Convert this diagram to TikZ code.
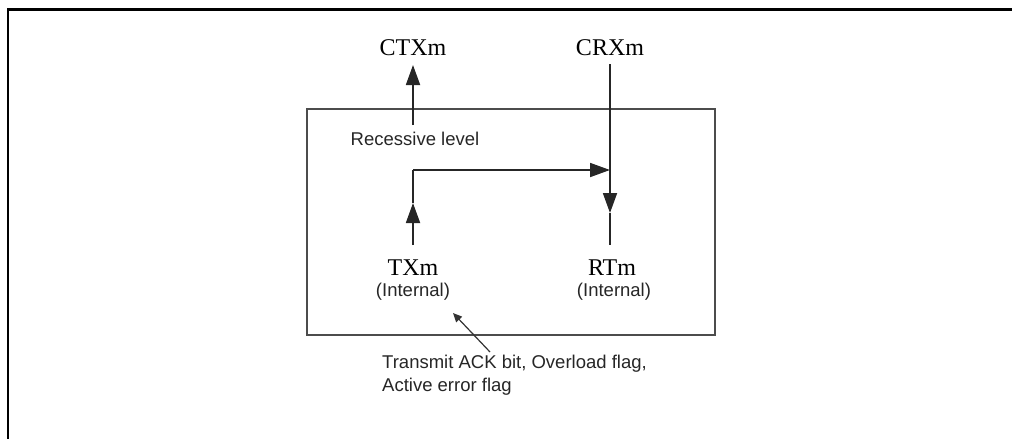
\documentclass[tikz,border=0pt]{standalone}
\usepackage{fontspec}
\setmainfont{Liberation Serif}
\newfontfamily\arialf{Liberation Sans}
\usetikzlibrary{arrows.meta}
\tikzset{
  sig/.style={font=\fontsize{24}{26}\selectfont, inner sep=0pt},
  lbl/.style={font=\arialf\fontsize{18.5}{23}\selectfont, inner sep=0pt, text=black!85},
  wire/.style={line width=1.8pt, draw=black!85},
  bigtip/.style={-{Triangle[length=20pt,width=14pt]}},
  smalltip/.style={-{Triangle[length=9pt,width=8pt]}},
}
\begin{document}
\begin{tikzpicture}[x=1pt,y=-1pt]
\useasboundingbox (0,0) rectangle (1012,439);
% outer frame (left and top edges)
\draw[line width=2.6pt] (8,445) -- (8,9.5) -- (1020,9.5);
% block outline
\draw[line width=1.8pt, draw=black!70] (307,109) rectangle (715,335);

% signal names
\node[sig] (ctx) at (413,48) {CTXm};
\node[sig] (crx) at (610,48) {CRXm};
\node[sig] (tx) at (413,268) {TXm};
\node[sig] (rt) at (612,268) {RTm};
\node[lbl] (txi) at (413,292) {(Internal)};
\node[lbl] (rti) at (614,292) {(Internal)};
\node[lbl] (rec) at (415,139) {Recessive level};
\node[lbl, align=left, anchor=north west] (note) at (382,355)
  {Transmit ACK bit, Overload flag,\\Active error flag};

% connection points
\coordinate (ctxTip) at (413,65);
\coordinate (recTop) at (413,125);
\coordinate (crxTop) at (610,64);
\coordinate (crxTip) at (610,213);
\coordinate (rtTop) at (610,245);
\coordinate (txTop) at (413,245);
\coordinate (txTip) at (413,203);
\coordinate (corner) at (413,170);
\coordinate (join) at (610,170);
\coordinate (noteTail) at (490,352);
\coordinate (noteTip) at (453,313);

% recessive level driven onto CTXm
\draw[wire, bigtip] (recTop) -- (ctxTip);
% CRXm feeds RTm
\draw[wire, bigtip] (crxTop) -- (crxTip);
\draw[wire] (crxTip) -- (rtTop);
% TXm looped back into the receive path
\draw[wire, bigtip] (txTop) -- (txTip);
\draw[wire] (txTip) -- (corner);
\draw[wire, bigtip] (corner) -- (join);
% annotation pointer
\draw[line width=1.2pt, draw=black!80, smalltip] (noteTail) -- (noteTip);
\end{tikzpicture}
\end{document}
